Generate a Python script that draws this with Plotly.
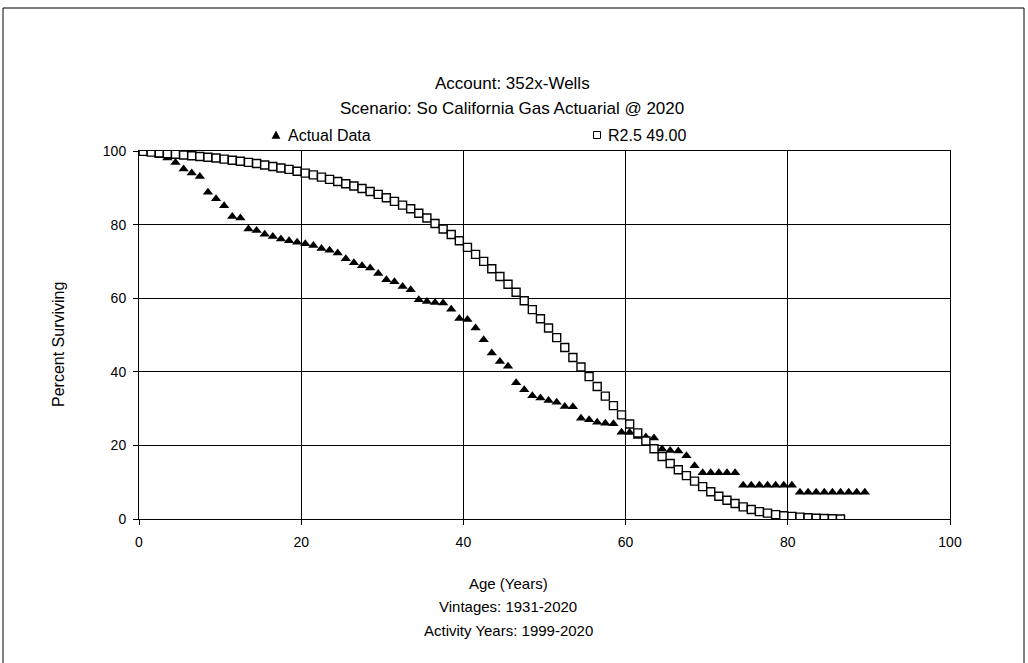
import plotly.graph_objects as go

# Age grid: the starting point plus the mid-points of each one-year interval
ages = [0.0] + [a + 0.5 for a in range(90)]

# Observed percent surviving (Actual Data)
actual_pct = [
    100.0, 99.8, 99.3, 98.7, 98.1, 96.9, 95.1, 94.0, 93.1, 88.8,
    87.0, 85.1, 82.2, 81.8, 78.8, 78.4, 77.4, 76.8, 76.1, 75.6,
    75.2, 74.8, 74.3, 73.5, 73.0, 72.3, 70.7, 69.6, 68.8, 68.2,
    66.7, 65.0, 64.5, 63.2, 62.3, 59.6, 59.1, 58.8, 58.7, 57.0,
    54.5, 54.2, 51.9, 48.7, 45.1, 42.8, 41.5, 37.0, 35.1, 33.5,
    32.9, 32.2, 31.7, 30.6, 30.5, 27.4, 27.0, 26.3, 26.0, 25.9,
    23.6, 23.5, 22.4, 22.3, 22.0, 19.0, 18.6, 18.5, 17.2, 14.5,
    12.6, 12.6, 12.6, 12.6, 12.6, 9.2, 9.2, 9.2, 9.2, 9.2,
    9.2, 9.2, 7.3, 7.3, 7.3, 7.3, 7.3, 7.3, 7.3, 7.3,
    7.3,
]

# Fitted Iowa R2.5 curve, 49.00-year average life
r25_pct = [
    100.0, 99.9, 99.7, 99.5, 99.3, 99.1, 98.9, 98.7, 98.5, 98.3,
    98.1, 97.8, 97.5, 97.2, 96.9, 96.6, 96.2, 95.8, 95.4, 95.0,
    94.5, 94.0, 93.5, 92.9, 92.3, 91.7, 91.1, 90.5, 89.8, 89.0,
    88.2, 87.3, 86.3, 85.3, 84.3, 83.1, 81.8, 80.3, 78.8, 77.3,
    75.6, 73.8, 71.9, 70.0, 68.0, 65.9, 63.8, 61.6, 59.3, 56.9,
    54.4, 51.9, 49.3, 46.6, 43.9, 41.3, 38.7, 36.0, 33.4, 30.8,
    28.3, 25.8, 23.4, 21.2, 19.1, 17.0, 15.1, 13.4, 11.8, 10.3,
    8.8, 7.4, 6.2, 5.1, 4.2, 3.3, 2.6, 2.0, 1.6, 1.2,
    0.9, 0.7, 0.5, 0.35, 0.2, 0.12, 0.06, 0.02,
]

tick_vals = [0, 20, 40, 60, 80, 100]
title_lines = ["Account: 352x-Wells", "Scenario: So California Gas Actuarial @ 2020"]
subtitle_lines = ["Age (Years)", "Vintages: 1931-2020", "Activity Years: 1999-2020"]
series_names = ["Actual Data", "R2.5 49.00"]

W, H = 1028, 663
ML, MR, MT, MB = 139, 78, 151, 144
PW, PH = W - ML - MR, H - MT - MB
FONT = "Liberation Sans, Arial, sans-serif"


def px(x):
    return (x - ML) / PW


def py(y):
    return (H - MB - y) / PH


fig = go.Figure()

fig.add_trace(go.Scatter(
    x=ages, y=actual_pct, mode="markers", name=series_names[0],
    marker=dict(symbol="triangle-up", size=9, color="black",
                line=dict(width=0)),
    showlegend=False,
))
fig.add_trace(go.Scatter(
    x=ages[:len(r25_pct)], y=r25_pct, mode="markers", name=series_names[1],
    marker=dict(symbol="square", size=8, color="white",
                line=dict(width=1.4, color="black")),
    showlegend=False,
))

axis_common = dict(
    range=[0, 100], tickvals=tick_vals, showgrid=True, gridcolor="black",
    gridwidth=1, zeroline=False, showline=True, linecolor="black",
    linewidth=1, mirror=True, ticks="outside", ticklen=5, tickcolor="black",
    tickfont=dict(family=FONT, size=14, color="black"), fixedrange=True,
)
fig.update_xaxes(**axis_common, ticklabelstandoff=5)
fig.update_yaxes(**axis_common, ticklabelstandoff=4)

annotations = []
for text, yy in zip(title_lines, [83, 108]):
    annotations.append(dict(x=px(512), y=py(yy), xref="paper", yref="paper",
                            text=text, showarrow=False, xanchor="center",
                            yanchor="middle",
                            font=dict(family=FONT, size=17, color="black")))
for text, yy in zip(subtitle_lines, [583, 606, 630]):
    annotations.append(dict(x=px(508), y=py(yy), xref="paper", yref="paper",
                            text=text, showarrow=False, xanchor="center",
                            yanchor="middle",
                            font=dict(family=FONT, size=15, color="black")))
annotations.append(dict(x=px(58), y=py(345), xref="paper", yref="paper",
                        text="Percent Surviving", textangle=-90,
                        showarrow=False, xanchor="center", yanchor="middle",
                        font=dict(family=FONT, size=16, color="black")))
# legend labels
for text, xx in zip(series_names, [286, 606]):
    annotations.append(dict(x=px(xx), y=py(135), xref="paper", yref="paper",
                            text=text, showarrow=False, xanchor="left",
                            yanchor="middle",
                            font=dict(family=FONT, size=16, color="black")))

shapes = [
    # outer frame
    dict(type="rect", xref="paper", yref="paper",
         x0=px(3), x1=px(1024), y0=py(680), y1=py(8),
         line=dict(color="black", width=1), fillcolor="rgba(0,0,0,0)"),
]
# legend glyphs
tx, ty = 276, 135
shapes.append(dict(type="path", xref="paper", yref="paper",
                   path=f"M {px(tx-4)} {py(ty+3.5)} L {px(tx+4)} {py(ty+3.5)} L {px(tx)} {py(ty-4)} Z",
                   fillcolor="black", line=dict(color="black", width=0.5)))
sx, sy = 597, 135
shapes.append(dict(type="rect", xref="paper", yref="paper",
                   x0=px(sx-3.5), x1=px(sx+3.5), y0=py(sy+3.5), y1=py(sy-3.5),
                   fillcolor="white", line=dict(color="black", width=1)))

fig.update_layout(
    width=W, height=H, margin=dict(l=ML, r=MR, t=MT, b=MB, pad=0),
    paper_bgcolor="white", plot_bgcolor="white",
    font=dict(family=FONT, color="black"),
    annotations=annotations, shapes=shapes, showlegend=False,
)

fig.write_html("out.html", config={"displayModeBar": False})
